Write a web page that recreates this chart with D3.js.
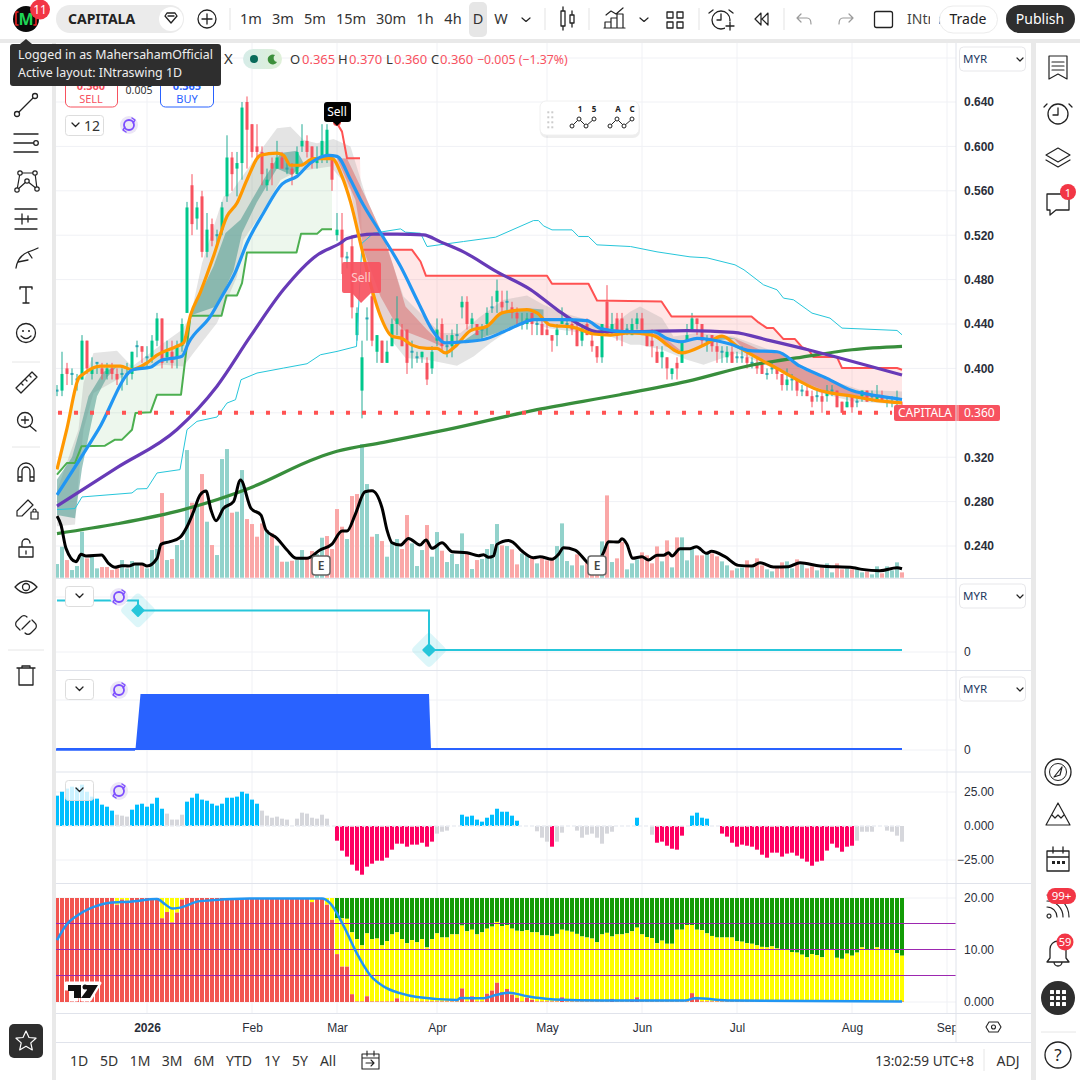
<!DOCTYPE html>
<html><head><meta charset="utf-8">
<script src="https://cdn.jsdelivr.net/npm/d3@7/dist/d3.min.js"></script>
<style>
html,body{margin:0;padding:0;background:#fff}
svg{display:block;font-family:"Noto Sans",sans-serif}
text{fill:#222}
</style></head><body><svg id="c" width="1080" height="1080" viewBox="0 0 1080 1080"></svg>
<script>
// ---------- DATA ----------
const opens=[.38,.38,.4,.395,.39,.39,.425,.395,.405,.4,
.395,.4,.395,.395,.395,.395,.42,.42,.41,.41,
.425,.445,.41,.415,.41,.42,.45,.565,.535,.555,
.505,.53,.52,.525,.555,.59,.58,.585,.64,.62,
.6,.595,.565,.585,.58,.59,.58,.58,.575,.6,
.605,.6,.585,.59,.59,.59,.52,.525,.5,.51,
.43,.38,.445,.465,.415,.425,.405,.42,.44,.435,
.435,.415,.41,.41,.405,.4,.425,.44,.42,.42,
.43,.455,.46,.44,.44,.435,.44,.455,.46,.46,
.46,.455,.45,.44,.44,.45,.44,.44,.435,.43,
.43,.44,.44,.44,.435,.425,.44,.425,.42,.41,
.46,.435,.445,.445,.435,.43,.44,.445,.43,.425,
.415,.41,.41,.395,.405,.405,.425,.435,.445,.44,
.425,.43,.42,.415,.41,.415,.41,.41,.41,.405,
.405,.405,.395,.4,.4,.395,.385,.39,.39,.38,
.38,.375,.375,.375,.375,.38,.38,.37,.365,.375,
.37,.375,.38,.375,.37,.375,.37,.37,.37,.365];
const highs=[.385,.415,.405,.4,.395,.43,.425,.41,.405,.405,
.405,.405,.4,.4,.405,.415,.425,.42,.42,.43,
.45,.445,.425,.425,.425,.445,.55,.575,.55,.56,
.54,.535,.525,.55,.61,.595,.595,.64,.645,.62,
.62,.6,.58,.59,.605,.595,.585,.585,.6,.62,
.61,.6,.6,.62,.62,.59,.54,.54,.505,.52,
.455,.425,.455,.47,.43,.425,.425,.445,.465,.44,
.435,.425,.415,.415,.41,.42,.445,.445,.43,.435,
.44,.465,.465,.45,.44,.44,.455,.465,.48,.47,
.47,.46,.455,.45,.45,.45,.445,.445,.44,.43,
.44,.455,.445,.445,.44,.44,.445,.43,.42,.44,
.475,.45,.45,.45,.44,.445,.45,.45,.43,.435,
.42,.42,.41,.4,.41,.425,.44,.45,.445,.44,
.43,.43,.425,.42,.42,.42,.415,.42,.415,.41,
.41,.405,.4,.405,.4,.395,.4,.395,.39,.385,
.385,.38,.38,.38,.385,.385,.38,.37,.375,.375,
.375,.38,.38,.38,.385,.38,.375,.375,.38,.37];
const lows=[.375,.375,.385,.385,.38,.39,.395,.39,.395,.39,
.39,.39,.385,.38,.385,.39,.41,.405,.4,.405,
.42,.4,.405,.4,.4,.415,.45,.52,.525,.5,
.5,.51,.51,.52,.55,.56,.555,.57,.58,.59,
.59,.565,.56,.565,.58,.58,.575,.565,.575,.595,
.59,.58,.58,.585,.585,.56,.515,.485,.49,.445,
.425,.355,.425,.42,.405,.405,.405,.42,.43,.42,
.395,.4,.405,.405,.385,.395,.42,.415,.41,.41,
.42,.445,.435,.435,.43,.425,.43,.45,.45,.45,
.45,.445,.44,.435,.435,.43,.43,.43,.43,.415,
.42,.44,.43,.43,.42,.42,.43,.415,.405,.405,
.43,.43,.425,.42,.43,.43,.435,.43,.42,.41,
.405,.4,.39,.39,.39,.405,.425,.435,.43,.42,
.415,.415,.405,.405,.405,.405,.405,.405,.4,.4,
.395,.395,.39,.395,.39,.38,.38,.38,.375,.375,
.375,.365,.37,.36,.37,.375,.365,.36,.365,.36,
.365,.37,.37,.37,.37,.37,.365,.365,.365,.36];
const closes=[.38,.395,.395,.395,.39,.425,.4,.4,.405,.395,
.4,.395,.39,.395,.395,.415,.42,.415,.41,.425,
.445,.405,.415,.405,.42,.44,.545,.53,.545,.505,
.525,.515,.52,.545,.59,.575,.585,.635,.615,.595,
.595,.575,.57,.58,.59,.58,.58,.575,.595,.605,
.595,.585,.59,.605,.615,.57,.525,.5,.5,.455,
.45,.41,.445,.425,.43,.405,.415,.44,.445,.42,
.405,.415,.41,.415,.39,.415,.435,.42,.42,.43,
.43,.46,.44,.445,.43,.435,.45,.455,.47,.455,
.46,.45,.445,.44,.445,.44,.44,.43,.43,.425,
.435,.445,.44,.435,.42,.435,.43,.42,.41,.44,
.43,.44,.43,.43,.435,.44,.445,.43,.42,.42,
.405,.415,.4,.4,.4,.425,.43,.445,.44,.425,
.425,.42,.415,.415,.415,.405,.41,.41,.405,.405,
.4,.395,.395,.4,.395,.385,.39,.39,.38,.38,
.375,.37,.375,.37,.38,.38,.365,.36,.37,.365,
.37,.38,.37,.375,.375,.37,.37,.37,.37,.36];
const volumes=[41,93,53,23,35,138,58,63,28,32,
32,23,28,53,28,50,43,38,28,83,
86,254,53,56,98,113,383,225,215,311,
168,98,68,356,386,195,198,323,176,161,
123,163,143,133,96,48,48,51,53,83,
58,80,71,120,125,86,206,153,116,245,
251,401,281,123,131,110,63,105,116,86,
188,103,35,83,158,63,137,81,47,71,
41,133,71,26,53,56,86,101,161,97,
95,85,40,73,67,60,43,58,52,60,
95,163,50,37,70,37,45,10,10,109,
247,47,58,107,25,43,55,76,67,43,
94,49,112,31,121,121,52,91,67,67,
73,73,64,49,37,22,28,31,52,31,
58,37,25,19,31,46,49,28,55,40,
28,34,22,31,43,16,43,25,28,25,
28,16,19,10,34,13,34,22,46,16];
const volumeTone="ttrtttrttr"+"rrrttttrtt"+"trtrtttrtr"+"trtttrttrr"+"rrtrtrtrtt"+"rrttrrrrtr"+"rttrtrtttr"+"rtttrttrtt"+"ttrtrttttr"+"trrttrtrrr"+"ttttrtrrrt"+"rtrrtttrrr"+"rtrtrtttrr"+"trrttrttrt"+"rrttrrttrt"+"rrtrttrrtr"+"ttrttrtttr";
const volumeAvg=[[0,185],[.8,158],[1.8,88],[3.8,48],[4.8,70],[5.8,65],[8.9,68],[10.3,43],[11.6,31],[13,36],[14.3,35],[15.6,41],[17,41],[18,35],[20,58],[20.8,100],[22.6,108],[24.6,121],[26,153],[27.3,198],[28.6,248],[29.8,260],[30.8,203],[31.8,171],[33.3,208],[35.3,228],[36.7,293],[38.8,208],[40.8,188],[41.8,143],[44,118],[46,83],[47.9,58],[50,58],[52.6,83],[55,101],[57,140],[58,140],[59.6,188],[61.6,258],[63,261],[65,210],[66,143],[67,105],[68.7,98],[70.3,118],[72.6,98],[73.8,113],[75,88],[77,105],[79,78],[82,75],[84.3,66],[85.3,69],[86.3,61],[87.3,65],[88,100],[90.3,112],[91.3,105],[93,80],[95.3,60],[96.6,63],[99,55],[100.3,70],[101.3,90],[103.6,83],[106,47],[107.5,30],[109.3,75],[110.3,108],[112.3,107],[113,117],[114,100],[115.1,58],[117,63],[118.3,53],[120,67],[121.3,67],[122.3,75],[123,65],[124.6,87],[126.6,87],[127.9,93],[129.9,73],[130.9,79],[133.6,63],[136.3,37],[139,35],[140.6,45],[143.3,32],[146.3,33],[148.6,45],[152.6,35],[159.3,30],[161,25],[164.6,21],[168,30],[169,27]];
const emaFast=[[0,.309],[2,.346],[4.3,.391],[5.3,.395],[8.7,.402],[12.7,.402],[15,.399],[18,.405],[20,.412],[24,.42],[25.3,.423],[26.7,.448],[28.7,.469],[31.3,.501],[34,.537],[36,.549],[38,.57],[40.7,.592],[44,.594],[45.3,.592],[46.7,.583],[48.7,.583],[51.3,.589],[55,.589],[57,.573],[58.7,.55],[61,.507],[63,.471],[64.7,.447],[67,.429],[69,.427],[71,.421],[74,.418],[76,.418],[77.7,.414],[79.7,.42],[82.7,.434],[86,.438],[89,.45],[94,.453],[96,.45],[98.7,.439],[103.3,.437],[107.3,.431],[110.7,.43],[114.6,.432],[119,.43],[125,.414],[129.4,.421],[133,.429],[136,.42],[144,.4],[152.6,.38],[159,.375],[164,.371],[169,.369]];
const emaSlow=[[0,.286],[8.3,.345],[15.3,.399],[18.7,.401],[20.7,.407],[25,.411],[26.3,.423],[30.7,.447],[33,.465],[35.7,.487],[38,.513],[41.3,.54],[45,.566],[48,.573],[50.7,.585],[54.3,.592],[56,.591],[58.7,.57],[60.7,.552],[65,.52],[68.7,.492],[72.3,.459],[75,.435],[77.7,.423],[81.3,.424],[85.3,.426],[89.3,.433],[92.7,.44],[95.3,.444],[101.3,.444],[106,.443],[108.7,.436],[114,.433],[119.3,.433],[122,.427],[125,.424],[128,.427],[130.6,.426],[134.6,.422],[138.6,.416],[144,.415],[148.6,.402],[154,.391],[159,.38],[164.6,.375],[169,.372]];
const maMid=[[0,.276],[12,.3106],[24,.345],[32,.384],[38.7,.429],[45.3,.471],[52,.502],[56.7,.513],[58,.517],[63.3,.521],[68,.521],[73.3,.5203],[76.7,.514],[81.3,.505],[88,.487],[94.7,.471],[100,.453],[104.7,.439],[108,.433],[114.7,.433],[126,.434],[135.3,.4324],[142.6,.425],[150,.417],[156,.41],[162.6,.402],[169,.394]];
const maLong=[[0,.2512],[12,.26],[25.3,.2728],[38.6,.2923],[52,.3193],[56,.3253],[65.3,.3334],[78,.3448],[96,.3628],[112.6,.3763],[126,.3883],[139.3,.4033],[149,.4102],[159,.4168],[169,.4198]];
const channel=[[0,.2728],[3.6,.2737],[5,.2842],[15,.2878],[16,.2914],[18,.2917],[20,.3058],[24.6,.3088],[26,.3448],[28,.3523],[32,.3562],[34,.3688],[35.7,.3718],[36.8,.3898],[40,.3958],[45.3,.4003],[50,.4042],[52.7,.4123],[56,.4153],[59.9,.4198],[61,.5128],[63.3,.5218],[68.7,.5257],[69.7,.5227],[72.7,.5218],[74,.5098],[81.3,.5143],[87.7,.5182],[95.3,.5332],[96.3,.5332],[97.3,.5284],[99,.5248],[103,.5248],[104.3,.5188],[106.3,.5188],[108,.5113],[114.7,.5098],[120,.505],[126.6,.5005],[130,.4996],[135.6,.4933],[137.4,.4888],[141.3,.4753],[144,.4708],[145.3,.4633],[147.3,.4618],[151,.4498],[154.6,.4453],[157,.4363],[168,.4342],[169,.4303]];
const stopRedHigh=[[56,.6208],[57,.6133],[58,.5893],[60.6,.5893]];
const stopRed=[[61,.5068],[71,.5068],[72.7,.4963],[73.8,.4834],[98,.4834],[99,.4762],[106.3,.4762],[108,.4612],[120.9,.4603],[122.9,.4468],[138.9,.4468],[140.3,.4414],[142,.4363],[143.3,.4363],[145.3,.4264],[147.6,.4264],[149,.4192],[150.3,.4168],[151.3,.4102],[156,.4102],[157,.4003],[168,.4003],[169,.3988]];
const stopGreen=[[0,.3043],[2,.3148],[3.6,.3148],[4.9,.3298],[9.6,.3304],[11.6,.3358],[13,.3358],[15,.3448],[15.7,.3598],[18.7,.3604],[20,.3763],[24.8,.3763],[26.7,.4474],[32.9,.4474],[33.9,.4657],[36,.4657],[37,.4768],[38,.5044],[47.9,.5044],[48.8,.5212],[52,.5212],[53,.5254],[55,.5254]];
const cloudTop=[[0,.29],[4.3,.345],[5.3,.387],[7.3,.4138],[12,.416],[15,.4018],[21.3,.4228],[25,.4348],[26.7,.4468],[29,.4948],[33.3,.5548],[34.7,.5578],[38.7,.5833],[41.3,.5998],[44,.6163],[46.7,.6178],[49.3,.6058],[52,.6028],[55.3,.6067],[58.7,.5998],[62,.5518],[65.3,.5188],[69.3,.4648],[74,.4438],[76.7,.4318],[80.7,.4318],[84.7,.4468],[89.3,.4618],[94,.4657],[97.3,.4573],[101.3,.4498],[106,.4438],[110.7,.4378],[114.7,.4513],[116.6,.4558],[121,.4453],[123.3,.4288],[128,.4318],[135.3,.4288],[146,.4108],[152.6,.3928],[160.6,.3808],[169,.3793]];
const cloudBottom=[[0,.2578],[3.6,.2593],[4.6,.3148],[5.3,.3448],[7.3,.3778],[12,.3898],[15,.3973],[21.3,.4033],[25.3,.4018],[27.3,.4138],[32,.4408],[36,.4828],[37.3,.5158],[41.3,.5428],[44.7,.5698],[48,.5773],[54.7,.5818],[58.7,.5608],[61,.5068],[64.7,.4468],[67.3,.4228],[69.7,.4093],[74,.4078],[77.3,.4048],[80,.4024],[83.3,.4108],[86.7,.4228],[90,.4333],[94.7,.4423],[98,.4363],[105.3,.4318],[110.7,.4288],[114.7,.4213],[116.6,.4213],[121,.4168],[126,.4078],[129.3,.4033],[136,.4138],[144,.3988],[152.6,.3778],[159,.3703],[169,.3673]];
const tealA=[[[0,.30],[3,.32],[4.6,.345],[6.3,.375],[9.3,.397],[12,.402]],[[0,.268],[3.6,.265],[5,.31],[6.6,.345],[8,.375],[10,.392],[12,.402]]];
const tealB=[[[27,.45],[28.7,.468],[31.3,.492],[33.7,.522],[36.7,.534],[41.3,.57],[44.7,.594],[48,.596],[49.3,.585]],[[27,.448],[32,.456],[35.3,.488],[37,.522],[40,.55],[44,.58],[47,.574],[49.3,.585]]];
const tealC=[[[81,.424],[84,.433],[86.7,.441],[89.3,.45],[94.7,.454],[97.3,.453]],[[81,.424],[84,.426],[88,.432],[92,.44],[97.3,.444]]];
const tealD=[[[129,.421],[133,.43],[135.5,.4268]],[[129,.42],[133,.4258],[135.5,.4264]]];
const roseA=[[[56,.589],[58,.589],[62,.5518],[65.3,.5188],[67.3,.4918],[69.7,.4558],[74,.4348],[76.7,.4228]],[[56,.589],[59.7,.5518],[61.3,.5068],[64.7,.4648],[67.3,.4438],[69.7,.4333],[74,.4258],[77,.4198]]];
const roseB=[[[119,.4333],[121.6,.4273],[125,.4153]],[[119,.4333],[121.6,.42],[125,.4153]]];
const roseC=[[[135.3,.4273],[140.6,.4168],[144,.4153],[148.6,.4003],[154,.3898],[159,.3793],[164.6,.3742]],[[135.3,.4273],[138,.4138],[144,.4003],[148,.3898],[154,.3793],[159,.3748],[164.6,.3733]]];
const stepLine=[[0,50],[16.2,50],[16.2,40],[74.4,40],[74.4,0],[169,0]];
const blockLine=[[0,0],[15.7,0],[16.7,1],[74.4,1],[74.8,0],[169,0]];
const momentum=[22.3,25.2,27.5,28.9,28.2,30.4,25.2,21.6,20.1,15.7,14.2,11.3,8.3,7.6,6.9,12,15.7,16.4,14.2,16.4,20.8,12.7,9.1,4.7,4.7,8.3,17.9,20.8,23.8,19.4,18.6,16.4,15,16.4,20.8,20.8,21.6,25.2,23.8,19.4,16.4,11.3,7.6,6.1,6.9,5.4,4.7,.2,5.4,9.8,9.1,6.1,5.4,8.3,5.4,0,
-10.8,-18.1,-22.5,-28.4,-32.8,-35.8,-29.9,-27.7,-25.5,-25.5,-23.3,-17.4,-13,-13,-15.2,-13.7,-13.7,-12.3,-15.2,-11.5,-5.6,-4.2,-3.4,0,0,
8.3,6.9,7.6,4.7,3.2,6.1,8.3,12.7,10.5,10.5,7.6,3.9,0,0,0,
-3.9,-8.6,-11.5,-15.2,-11.5,-4.9,0,0,-3.4,-8.6,-6.4,-5.6,-8.6,-13,-5.6,-4.2,0,0,0,0,6.1,0,0,-6.4,-12.3,-11.5,-14.5,-16.7,-17.4,-7.1,0,7.6,9.8,6.1,5.4,0,0,
-5.6,-7.8,-12.3,-15.2,-13.7,-14.5,-15.2,-17.4,-21.1,-23.3,-19.6,-19.6,-22.5,-20.3,-19.6,-21.8,-24,-26.2,-29.2,-26.2,-25.5,-18.1,-13,-15.9,-18.9,-15.2,-14.5,
-10.8,-4.2,-4.2,-4.2,0,0,-3.4,-4.2,-7.1,-11.5];
const momentumTone=[["b",12],["g",3],["b",7],["g",4],["b",15],["g",15],["p",20],["g",5],["b",15],["g",3],["p",1],["g",16],["b",1],["g",3],["p",6],["g",1],["b",4],["g",2],["p",27],["g",10]];
const redTop=[20,20,20,20,20,20,20,20,20,20,
20,20,18.7,19.7,19.5,20,20,20,20,20,
20,16.1,17.3,15.3,17.2,19.7,20,20,20,20,
20,20,20,20,20,20,20,20,20,20,
20,20,20,20,20,20,20,19.9,20,20,
20,19.2,20,20,18.7,15.8,9.2,6.8,6.8,1.5,
.1,.1,1.1,.1,.1,.1,.1,.1,.7,.1,
.1,.1,.1,.1,.1,.1,.1,.1,.1,.1,
.1,2.6,.1,1.1,.1,.1,1.6,2.2,3.7,1.9,
2.5,1.4,.8,.1,.8,.4,.1,.1,.1,.1,
.1,.9,.1,.1,.1,.1,.1,.1,.1,.1,
.1,.6,.1,.1,.1,.5,.9,.1,.1,.1,
.1,.1,.1,.1,.1,.1,.1,1.7,1,.1,
.1,.1,.1,.1,.1,.1,.1,.1,.1,.1,
.1,.1,.1,.1,.1,.1,.1,.1,.1,.1,
.1,.1,.1,.1,.1,.1,.1,.1,.1,.1,
.1,.1,.1,.1,.1,.1,.1,.1,.1,.1];
const yellowTop=[20,20,20,20,20,20,20,20,20,20,
20,20,20,20,20,20,20,20,20,20,
20,20,20,20,20,20,20,20,20,20,
20,20,20,20,20,20,20,20,20,20,
20,20,20,20,20,20,20,20,20,20,
20,20,20,20,20,20,16.1,16.1,16,13.4,
12.1,10.9,13.2,12.1,12.2,10.9,11.7,13,13.4,12.1,
11.3,11.9,11.5,12.1,10.5,12.1,13.2,12.4,12.4,13,
13,14.7,13.6,13.9,13,13.4,14.1,14.5,15.4,14.6,
14.8,14.1,13.7,13.6,13.8,13.4,13.4,12.8,12.8,12.7,
13.1,13.9,13.7,13.5,13.1,12.6,12.4,12.2,11.5,13,
13.3,12.6,13,13,13.2,13.6,14.3,13,12.5,12.3,
11.3,11.8,11.2,11.2,13.9,13.9,14.8,14.8,13.9,13.8,
13.2,12.7,12.4,12.4,12.4,12.4,11.7,11.6,11.3,11.2,
10.9,10.6,10.5,10.7,10.3,10.1,10.1,9.6,9.5,9.1,
8.6,9.2,9,8.6,10,10,8.5,8.3,9.3,8.9,
9.5,10.5,10,10,10.5,10.2,10,10,9.4,8.9];
const strength=[[0,11.9],[2,15],[4,16.6],[6.6,18],[10.6,19.1],[14.6,19.3],[20,19.8],[21.6,18.8],[23,18],[24.3,18.1],[28.6,19.4],[38.6,19.9],[53,19.9],[54.6,19],[57.3,14.7],[60,9.3],[62.6,5.2],[65.3,3],[68.6,1.7],[72,.95],[80,.4],[80.7,.75],[85,.7],[88,1.4],[90.4,1.8],[94,1.1],[99.4,.5],[109,.3],[125.7,.3],[127.6,.7],[134.8,.3],[169,.1]];
const priceTicks=[.64,.6,.56,.52,.48,.44,.4,.32,.28,.24];
const monthIdx=[18,39,56,76,98,117,136,159,178];
const monthLabels=["2026","Feb","Mar","Apr","May","Jun","Jul","Aug","Sep"];
const intervals=[["1m",251],["3m",283],["5m",315],["15m",351],["30m",391],["1h",425],["4h",453],["D",478],["W",501]];
const ranges=[["1D",79],["5D",109],["1M",140],["3M",172],["6M",204],["YTD",239],["1Y",272],["5Y",300],["All",328]];

// ---------- SCALES ----------
const svg=d3.select("#c");
const x=d3.scaleLinear().domain([0,169]).range([57,902]);
const yP=d3.scaleLinear().domain([.24,.64]).range([546,102]);
const yV=d3.scaleLinear().domain([0,400]).range([577.7,444.4]);
const yS=d3.scaleLinear().domain([0,50]).range([650,600.5]);
const yB=d3.scaleLinear().domain([0,1]).range([749,694]);
const yM=d3.scaleLinear().domain([-25,25]).range([860,792]);
const yR=d3.scaleLinear().domain([0,20]).range([1002,898]);
const GRID="#f0f1f5",EDGE="#e0e3eb",INK="#222";

function L(s,x1,y1,x2,y2,c,w,d){const l=s.append("line").attr("x1",x1).attr("y1",y1).attr("x2",x2).attr("y2",y2).attr("stroke",c||INK).attr("stroke-width",w||1);if(d)l.attr("stroke-dasharray",d);return l;}
function R(s,xx,yy,w,h,f,r,st,sw){const e=s.append("rect").attr("x",xx).attr("y",yy).attr("width",w).attr("height",h).attr("fill",f||"none");if(r)e.attr("rx",r);if(st)e.attr("stroke",st).attr("stroke-width",sw||1);return e;}
function T(s,t,xx,yy,o={}){const e=s.append("text").text(t).attr("x",xx).attr("y",yy).style("font-size",(o.size||13)+"px").style("fill",o.c||INK);if(o.w)e.style("font-weight",o.w);if(o.a)e.attr("text-anchor",o.a);return e;}
function P(s,d,o={}){return s.append("path").attr("d",d).attr("fill",o.f||"none").attr("stroke",o.s===undefined?INK:o.s).attr("stroke-width",o.w||1.3).attr("stroke-linecap","round").attr("stroke-linejoin","round");}
function C(s,cx,cy,r,f,st,w){const e=s.append("circle").attr("cx",cx).attr("cy",cy).attr("r",r).attr("fill",f||"none");if(st)e.attr("stroke",st).attr("stroke-width",w||1.3);return e;}

R(svg,0,0,1080,1080,"#fff");
const defs=svg.append("defs");
defs.append("clipPath").attr("id","main").append("rect").attr("x",56).attr("y",43).attr("width",900).attr("height",535);
defs.append("clipPath").attr("id","tax").append("rect").attr("x",56).attr("y",1014).attr("width",900).attr("height",28);
const gf=defs.append("linearGradient").attr("id","pillg");
gf.append("stop").attr("offset","0").attr("stop-color","#d6ece8");gf.append("stop").attr("offset","1").attr("stop-color","#dff0d8");

// grid
const grid=svg.append("g");
monthIdx.forEach(m=>L(grid,x(m),43,x(m),1013,GRID,1));
priceTicks.concat([.36]).forEach(p=>L(grid,56,yP(p),956,yP(p),GRID,1));
L(grid,56,58,956,58,GRID,1);
[597,652,700,750,792,860,898,1002].forEach(v=>L(grid,56,v,956,v,GRID,1));

// ---------- MAIN PANE ----------
const main=svg.append("g").attr("clip-path","url(#main)");
main.append("g").selectAll("rect").data(volumes).join("rect")
 .attr("x",(d,i)=>x(i)-2).attr("width",4).attr("y",d=>yV(d)).attr("height",d=>yV(0)-yV(d))
 .attr("fill",(d,i)=>volumeTone[i]==="t"?"#92d2cb":"#faa7a7");
const poly=d3.line().x(d=>x(d[0])).y(d=>yP(d[1]));
const band=(a,b)=>poly(a.concat(b.slice().reverse()))+"Z";
const orangeA=emaFast.filter(d=>d[0]<=55), orangeB=emaFast.filter(d=>d[0]>=57);
main.append("path").attr("d",band(orangeA,stopGreen)).attr("fill","#4caf50").attr("fill-opacity",.1);
main.append("path").attr("d",band([[56,.5893]].concat(stopRedHigh.slice(2),stopRed),[[56,.581]].concat(orangeB))).attr("fill","#ff5252").attr("fill-opacity",.14);
main.append("path").attr("d",band(cloudTop,cloudBottom)).attr("fill","#9e9e9e").attr("fill-opacity",.28);
[tealA,tealB,tealC,tealD].forEach(t=>main.append("path").attr("d",band(t[0],t[1])).attr("fill","#4f9c90").attr("fill-opacity",.56));
[roseA,roseB,roseC].forEach(t=>main.append("path").attr("d",band(t[0],t[1])).attr("fill","#d85a5a").attr("fill-opacity",.45));

// candles
const cg=main.append("g");
closes.forEach((c,i)=>{const o=opens[i],up=c>=o,doji=c===o,wick=up?"#22ab94":"#f7525f",body=doji?"#2aa6b4":(up?"#00c78c":"#f7525f");
 L(cg,x(i),yP(highs[i]),x(i),yP(lows[i]),wick,1);
 const t=yP(Math.max(o,c)),h=Math.max(yP(Math.min(o,c))-t,2);
 R(cg,x(i)-1.5,doji?t-1:t,3,h,body);
});
const lineD=d3.line().x(d=>x(d[0])).y(d=>yP(d[1]));
const smoothD=d3.line().curve(d3.curveMonotoneX).x(d=>x(d[0])).y(d=>yP(d[1]));
const drawLine=(d,c,w,gen)=>main.append("path").attr("d",(gen||lineD)(d)).attr("fill","none").attr("stroke",c).attr("stroke-width",w).attr("stroke-linejoin","round");
drawLine(channel,"#26c6da",1);
drawLine(stopGreen,"#4caf50",2);
drawLine(stopRedHigh,"#ff5252",2);
drawLine(stopRed,"#ff5252",2);
drawLine(maLong,"#388e3c",3.2,smoothD);
drawLine(maMid,"#673ab7",3.2,smoothD);
drawLine(emaFast,"#ff9800",3.2,smoothD);
drawLine(emaSlow,"#2196f3",3.2,smoothD);
main.append("path").attr("d",d3.line().curve(d3.curveMonotoneX).x(d=>x(d[0])).y(d=>yV(d[1]))(volumeAvg)).attr("fill","none").attr("stroke","#000").attr("stroke-width",3).attr("stroke-linejoin","round");
L(main,58,yP(.36),892,yP(.36),"#ff5252",4,"4 12");

// earnings markers
[[x(52.8),"E"],[x(108),"E"]].forEach(e=>{R(main,e[0]-9,556,18,19,"#fff",3,"#666",1.5);T(main,e[1],e[0],570,{size:12,a:"middle",w:600,c:"#444"});});
// sell markers
const sx=x(56);
C(svg,sx,122,4,"#ff5252");
R(svg,sx-13,102,27,20,"#000",3);
T(svg,"Sell",sx,116,{size:12,c:"#fff",a:"middle"});
P(svg,`M${sx-4} 122L${sx} 126L${sx+4} 122Z`,{f:"#000",s:"none"});
const fx=x(60.8);
svg.append("path").attr("d",`M${fx-19} 264q0-2 2-2H${fx+18}q2 0 2 2V291q0 2-2 2h-8L${fx} 303L${fx-9} 293H${fx-17}q-2 0-2-2Z`).attr("fill","#f7525f").attr("fill-opacity",.92);
T(svg,"Sell",fx,282,{size:12,a:"middle",c:"#ffcaca"});

// axes
const axisStyle=(g,o={})=>{g.select(".domain").remove();g.selectAll("text").style("font-size",(o.size||12)+"px").style("fill",o.c||"#2a2e39").style("font-weight",o.w||400);g.selectAll("line").remove();};
svg.append("g").attr("transform","translate(956,0)").call(d3.axisRight(yP).tickValues(priceTicks).tickFormat(d3.format(".3f")).tickSize(0).tickPadding(8)).call(axisStyle,{w:700});
svg.append("g").attr("transform","translate(956,1.5)").call(d3.axisRight(yS).tickValues([0]).tickFormat(d=>"0").tickSize(0).tickPadding(8)).call(axisStyle);
svg.append("g").attr("transform","translate(956,1)").call(d3.axisRight(yB).tickValues([0]).tickFormat(d=>"0").tickSize(0).tickPadding(8)).call(axisStyle);
svg.append("g").attr("transform","translate(956,0)").call(d3.axisRight(yM).tickValues([25,0]).tickFormat(d=>d?"25.00":"0.000").tickSize(0).tickPadding(8)).call(axisStyle);
svg.append("g").attr("transform","translate(956,0)").call(d3.axisRight(yM).tickValues([-25]).tickFormat(d=>"\u221225.00").tickSize(0).tickPadding(1)).call(axisStyle);
svg.append("g").attr("transform","translate(956,0)").call(d3.axisRight(yR).tickValues([20,10,0]).tickFormat(d=>d?d.toFixed(2):"0.000").tickSize(0).tickPadding(8)).call(axisStyle);
const tax=svg.append("g").attr("clip-path","url(#tax)").append("g").attr("transform","translate(0,1014)")
 .call(d3.axisBottom(x).tickValues(monthIdx).tickFormat((d,k)=>monthLabels[k]).tickSize(0).tickPadding(9)).call(axisStyle);
tax.selectAll("text").filter((d,k)=>k===0).style("font-weight",700);

// last price label
R(svg,894,405,106,16,"#f7525f",2);
T(svg,"CAPITALA",898,417,{size:12,c:"#fff"});
T(svg,"0.360",964,417,{size:12,c:"#fff"});
L(svg,958,405,958,421,"#ffb3b3",1);

// ---------- PANE 2 & 3 ----------
svg.append("path").attr("d",d3.line().x(d=>x(d[0])).y(d=>yS(d[1]))(stepLine)).attr("fill","none").attr("stroke","#26c6da").attr("stroke-width",2);
[[16.2,40],[74.4,0]].forEach(p=>{const cx=x(p[0]),cy=yS(p[1]);
 svg.append("rect").attr("x",cx-13).attr("y",cy-13).attr("width",26).attr("height",26).attr("rx",4).attr("fill","#26c6da").attr("fill-opacity",.16).attr("transform",`rotate(45 ${cx} ${cy})`);
 svg.append("rect").attr("x",cx-5).attr("y",cy-5).attr("width",10).attr("height",10).attr("rx",1).attr("fill","#26c6da").attr("transform",`rotate(45 ${cx} ${cy})`);
});
svg.append("path").attr("d",d3.area().x(d=>x(d[0])).y0(yB(0)).y1(d=>yB(d[1]))(blockLine)).attr("fill","#2962ff");
svg.append("path").attr("d",d3.line().x(d=>x(d[0])).y(d=>yB(d[1]))(blockLine.filter(d=>d[1]===0))).attr("fill","none").attr("stroke","#2962ff").attr("stroke-width",2);
L(svg,56,749.5,135,749.5,"#2962ff",2.5);

// ---------- PANE 4 ----------
const tones=momentumTone.flatMap(d=>Array(d[1]).fill(d[0]));
const toneColor={b:"#00bfff",g:"#d6d7dc",p:"#ff0062"};
svg.append("g").selectAll("rect").data(momentum).join("rect")
 .attr("x",(d,i)=>x(i)-2).attr("width",4)
 .attr("y",d=>yM(Math.max(d,0))).attr("height",d=>Math.abs(yM(d)-yM(0)))
 .attr("fill",(d,i)=>toneColor[tones[i]]);
L(svg,56,yM(0),902,yM(0),"#eceef3",1.5,"4 2");

// ---------- PANE 5 ----------
const stack=svg.append("g");
redTop.forEach((v,i)=>{
 const bx=x(i)-2;
 R(stack,bx,yR(20),4,yR(yellowTop[i])-yR(20),"#129c06");
 R(stack,bx,yR(yellowTop[i]),4,yR(v)-yR(yellowTop[i]),"#ffff00");
 R(stack,bx,yR(v),4,yR(0)-yR(v),"#f25550");
});
[15,10,5].forEach(v=>L(svg,56,yR(v)-.5,956,yR(v)-.5,"#9c27b0",1));
svg.append("path").attr("d",d3.line().curve(d3.curveMonotoneX).x(d=>x(d[0])).y(d=>yR(d[1]))(strength)).attr("fill","none").attr("stroke","#2196f3").attr("stroke-width",2.5);
// tv logo
const lg=svg.append("g");
P(lg,"M66 983H100L90 1000H82V989H77V1000H71V989H66Z",{f:"#fff",s:"#fff",w:3});
P(lg,"M68 985H81V998H74V991H68Z",{f:"#111",s:"none"});
P(lg,"M84 985H98L90 998H81L87 990Z",{f:"#111",s:"none"});
C(lg,85,987,2.5,"#111");

// ---------- FRAME ----------
R(svg,0,0,1080,39,"#fff");
R(svg,0,39,1080,4,"#e9e9e9");
R(svg,0,43,52,1037,"#fff");
R(svg,52,39,4,1041,"#e9e9e9");
R(svg,1036,43,44,1037,"#fff");
R(svg,1031,39,5,1041,"#e9e9e9");
L(svg,956,43,956,1042,EDGE,1);
[578.5,670.5,772,883.5,1013.5,1042.5].forEach(v=>L(svg,56,v,1031,v,EDGE,1.2));

// price-currency dropdowns
[[47],[584],[677]].forEach(v=>{R(svg,959.5,v[0],66,24,"#fff",4,"#e7e7ea");T(svg,"MYR",963,v[0]+16,{size:11.5,c:"#1e3a5f"});P(svg,`M1017 ${v[0]+11}l3 3l3-3`,{w:1.2});});

// legend row
T(svg,"X",224,64,{size:15,c:"#333"});
R(svg,243,49,39,20,"url(#pillg)",10);
C(svg,254,59,4,"#0a6b5b");
P(svg,"M275 55a5 5 0 1 0 2 7a4 4 0 0 1-2-7Z",{f:"#3c8f3a",s:"none"});
[["O",290,"0.365",302],["H",338,"0.370",349],["L",386,"0.360",394],["C",431,"0.360",440]].forEach(d=>{T(svg,d[0],d[1],64,{size:13,c:"#333"});T(svg,d[2],d[3],64,{size:13,c:"#f7525f"});});
T(svg,"\u22120.005 (\u22121.37%)",477,64,{size:12.3,c:"#f7525f"});

// sell/buy widget
R(svg,65.5,76,52,31,"#fff",5,"#f7525f");
R(svg,160.5,76,53,31,"#fff",5,"#2962ff");
T(svg,"0.360",91,90,{size:11,a:"middle",w:700,c:"#f7525f"});
T(svg,"SELL",91,103,{size:11,a:"middle",c:"#f7525f"});
T(svg,"0.365",187,90,{size:11,a:"middle",w:700,c:"#2962ff"});
T(svg,"BUY",187,103,{size:11,a:"middle",c:"#2962ff"});
T(svg,"0.005",139,94,{size:10.5,a:"middle",c:"#333"});

// collapse / sync buttons
const sync=(cx,cy)=>{C(svg,cx,cy,9,"#ebe6f6");C(svg,cx,cy,5,null,"#7c4dff",1.8);P(svg,`M${cx+3} ${cy-7}l3 2l-2 3M${cx-3} ${cy+7}l-3-2l2-3`,{s:"#7c4dff",w:1.4});};
R(svg,65.5,115.5,38,20,"#fff",3,"#ddd");
P(svg,"M72 123l3.5 3.5l3.5-3.5",{w:1.3});
T(svg,"12",84,130.5,{size:14,c:"#333"});
sync(129,125);
[[586],[679],[780]].forEach((v,k)=>{R(svg,65.5,v[0]+.5,28,20,"#fff",3,"#ddd").attr("fill-opacity",k===2?.8:1);P(svg,`M76 ${v[0]+8}l3.5 3.5l3.5-3.5`,{w:1.3});sync(119,v[0]+11);});

// pattern toolbar
const pt=svg.append("g");
R(pt,540,102,100,36,"#000",7).attr("fill-opacity",.07);
R(pt,540,101,99,34,"#fff",6,"#f0f0f0");
[[548,112],[552,112],[548,117],[552,117],[548,122],[552,122],[548,127],[552,127]].forEach(d=>R(pt,d[0]-.7,d[1]-.7,2,2,"#ccc"));
[[572,["1","5"]],[610,["A","C"]]].forEach(d=>{const o=d[0];
 T(pt,d[1][0],o+8,112,{size:8,w:700,a:"middle",c:"#222"});T(pt,d[1][1],o+22,112,{size:8,w:700,a:"middle",c:"#222"});
 P(pt,`M${o} 126L${o+7} 119L${o+14} 126L${o+22} 119`,{w:1});
 [[o,126],[o+7,119],[o+14,126],[o+22,119]].forEach(q=>C(pt,q[0],q[1],2,"#fff","#222",1));
});

// ---------- TOP TOOLBAR ----------
const topBar=svg.append("g");
C(topBar,26,19,13,"#0a0a0a");
T(topBar,"M",26,25,{size:16,a:"middle",w:700,c:"#1fd655"});
P(topBar,"M18 12h-2v13h2M34 12h2v13h-2",{s:"#e22",w:1.6});
C(topBar,40,9.5,10,"#f23645");
T(topBar,"11",40,14,{size:12,a:"middle",c:"#fff"});
R(topBar,56,5,128,28,"#ebebeb",14);
T(topBar,"CAPITALA",68,24,{size:14,w:700,c:"#222"});
C(topBar,171,19,12,"#fff");
P(topBar,"M165 16l2-3h8l2 3l-6 7ZM168 16h6",{w:1.3});
C(topBar,207,19,9,"#fff","#222",1.3);
P(topBar,"M202 19h10M207 14v10",{w:1.3});
L(topBar,230,8,230,30,"#e3e3e3",1);
R(topBar,469,2,18,35,"#e6e6e6",5);
intervals.forEach(d=>T(topBar,d[0],d[1],24,{size:14.5,a:"middle",c:"#333"}));
P(topBar,"M522 18l4 3.5l4-3.5",{w:1.2});
L(topBar,545,8,545,30,"#e3e3e3",1);
P(topBar,"M561 11h4v15h-4ZM563 7v4M563 26v4M570 15h4v8h-4ZM572 11v4M572 23v4",{w:1.3});
L(topBar,589,8,589,30,"#e3e3e3",1);
P(topBar,"M605 28v-6h6v6M611 28v-10h6v10M617 28v-14h6v14M604 28h21M606 15l5-4l5 3l7-6",{w:1.2});
P(topBar,"M640 18l4 3.5l4-3.5",{w:1.2});
P(topBar,"M667 12h6v6h-6ZM677 12h6v6h-6ZM667 22h6v6h-6ZM677 22h6v6h-6Z",{w:1.3});
L(topBar,699,8,699,30,"#e3e3e3",1);
C(topBar,721,20,9,"none","#222",1.3);
P(topBar,"M721 14v6h-4M713 10l-4 3M729 10l4 3",{w:1.3});
R(topBar,725,21,10,10,"#fff");
P(topBar,"M730 22v8M726 26h8",{w:1.3});
P(topBar,"M761 13l-6 6l6 6ZM768 13l-6 6l6 6Z",{w:1.2});
L(topBar,784,8,784,30,"#e3e3e3",1);
P(topBar,"M801 14l-4 4l4 4M797 18h10q4 0 4 6",{s:"#9a9a9a",w:1.2});
P(topBar,"M849 14l4 4l-4 4M853 18h-10q-4 0-4 6",{s:"#9a9a9a",w:1.2});
R(topBar,874.5,11.5,18,16,"#fff",2,"#222",1.3);
T(topBar,"INtra",907,24,{size:14,c:"#444"});
R(topBar,930,3,9,32,"#fff");
R(topBar,939.5,6,58,27,"#fff",13.5,"#ececec");
T(topBar,"Trade",968,24,{size:14,a:"middle",c:"#222"});
R(topBar,1006,5,69,28,"#2e2e2e",14);
T(topBar,"Publish",1040,24,{size:14,a:"middle",c:"#fff"});

// tooltip
R(svg,10,44,211,42,"#2e2e2e",3);
P(svg,"M20 44l6-5l6 5Z",{f:"#2e2e2e",s:"none"});
T(svg,"Logged in as MahersahamOfficial",18,59,{size:12.4,c:"#eee"});
T(svg,"Active layout: INtraswing 1D",18,77,{size:12.4,c:"#eee"});

// ---------- LEFT TOOLBAR ----------
const lt=svg.append("g");
P(lt,"M17 114L35 96",{w:1.3});C(lt,17,114,2.5,"#fff","#222");C(lt,35,96,2.5,"#fff","#222");
P(lt,"M14 134H38M14 143H34M14 152H38",{w:1.4});C(lt,36,143,2.3,"#fff","#222");
P(lt,"M17 190L20 173L35 173L37 189L27 181Z",{w:1.2});[[17,190],[20,173],[35,173],[37,189],[27,181]].forEach(p=>C(lt,p[0],p[1],2.2,"#fff","#222",1.2));
P(lt,"M15 209H37M15 219H37M15 229H37M22 214V224M28 216V222",{w:1.3});
P(lt,"M16 268Q18 256 28 252Q34 250 38 248M18 262L28 260M28 252L32 258",{w:1.3});
P(lt,"M20 289V287H32V289M26 287V303M23 303H29",{w:1.4});
C(lt,26,333,9.5,"#fff","#222");C(lt,23,331,1,"#222");C(lt,29,331,1,"#222");P(lt,"M21 336q5 5 10 0",{w:1.2});
L(lt,12,362,40,362,"#e6e6e6",1);
P(lt,"M16 388L32 372L37 377L21 393ZM21 383l2 2M25 379l2 2M29 375l2 2",{w:1.3});
C(lt,25,420,7.5,"#fff","#222");P(lt,"M30 426L36 431M21.5 420h7M25 416.5v7",{w:1.3});
L(lt,12,447,40,447,"#e6e6e6",1);
P(lt,"M18 481V471a8 8 0 0 1 16 0V481H30V471a4 4 0 0 0-8 0V481ZM18 477H22M30 477H34",{w:1.3});
P(lt,"M17 516L17 511L28 500L33 505L22 516ZM33 512h5v7h-7v-7ZM33 512v-2q1.5-2 3 0v2",{w:1.2});
P(lt,"M19 547h14v10h-14ZM22 547v-4a4 4 0 0 1 8 0M26 551v3",{w:1.3});
P(lt,"M15 587Q26 575 37 587Q26 599 15 587Z",{w:1.3});C(lt,26,587,3.5,"#fff","#222");
P(lt,"M20 631l-3-3a4 4 0 0 1 0-6l4-4a4 4 0 0 1 6 0M32 621l3 3a4 4 0 0 1 0 6l-4 4a4 4 0 0 1-6 0M22 630L30 622",{w:1.2}).attr("transform","translate(0,-1)");
L(lt,8,650,44,650,"#e6e6e6",1);
P(lt,"M19 669v16h14v-16M17 668h18M22 668v-2h8v2",{w:1.3});
R(lt,9,1024,34,34,"#2e2e2e",5);
P(lt,"M26 1031l3 6.5l7 .7l-5.2 4.7l1.5 7l-6.3-3.6l-6.3 3.6l1.5-7l-5.2-4.7l7-.7Z",{s:"#fff",w:1.2});

// ---------- RIGHT TOOLBAR ----------
const rt=svg.append("g");
P(rt,"M1049 56H1067V79L1058 74L1049 79ZM1052 62H1064M1052 66H1064M1052 70H1064",{w:1.2});
C(rt,1058,114,10,"#fff","#222");P(rt,"M1058 108v7h-5M1047 104l-3 3M1069 104l3 3",{w:1.3});
P(rt,"M1058 148L1070 155L1058 162L1046 155ZM1046 160L1058 167L1070 160",{w:1.2});
P(rt,"M1047 194H1069V210H1056L1050 215V210H1047Z",{w:1.3});
C(rt,1068,192,8,"#f23645");T(rt,"1",1068,196.5,{size:11,a:"middle",c:"#fff"});
C(rt,1058,772,13,"#fff","#222");C(rt,1058,772,8.5,"#fff","#222",1);P(rt,"M1054 777L1062 767L1060 775Z",{w:1.2});
P(rt,"M1046 825L1058 803L1070 825ZM1052 815l3 3l3-3l3 3l3-3",{w:1.2});
P(rt,"M1047 851H1069V871H1047ZM1047 857H1069M1053 847v6M1063 847v6",{w:1.3});
R(rt,1052,861,3,3,"#222");R(rt,1057,861,3,3,"#222");R(rt,1062,861,3,3,"#222");
P(rt,"M1047 916a2 2 0 1 1 0 .1M1047 907a10 10 0 0 1 10 10M1047 901a16 16 0 0 1 16 16M1047 895a22 22 0 0 1 22 22",{w:1.2});
R(rt,1047,888,29,16,"#f23645",8);T(rt,"99+",1061.5,900,{size:11.5,a:"middle",c:"#fff"});
P(rt,"M1047 962h22l-3-4v-9a8 8 0 0 0-16 0v9ZM1054 962a4 4 0 0 0 8 0",{w:1.3});
C(rt,1065,942,8.5,"#f23645");T(rt,"59",1065,946,{size:11,a:"middle",c:"#fff"});
C(rt,1058,998,17,"#2e2e2e");
[-6,0,6].forEach(a=>[-6,0,6].forEach(b=>R(rt,1058+a-2,998+b-2,4,4,"#fff",.5)));
L(rt,1041,1032,1076,1032,"#e6e6e6",1);
C(rt,1058,1055,13,"#fff","#222");T(rt,"?",1058,1061,{size:17,a:"middle",c:"#222"});

// ---------- BOTTOM ----------
const bt=svg.append("g");
ranges.forEach(d=>T(bt,d[0],d[1],1066,{size:14,a:"middle",c:"#333"}));
P(bt,"M362 1054H379V1069H362ZM362 1058H379M367 1051v5M374 1051v5M366 1063h8M371 1060l3 3l-3 3",{w:1.1});
T(bt,"13:02:59 UTC+8",974,1066,{size:13.6,a:"end",c:"#333"});
L(bt,984,1049,984,1071,"#e6e6e6",1);
T(bt,"ADJ",1008,1066,{size:14,a:"middle",c:"#333"});
P(bt,"M989 1022h9l3 5l-3 5h-9l-3-5Z",{w:1.1});C(bt,993.5,1027,2,"#fff","#222",1.1);
</script></body></html>
